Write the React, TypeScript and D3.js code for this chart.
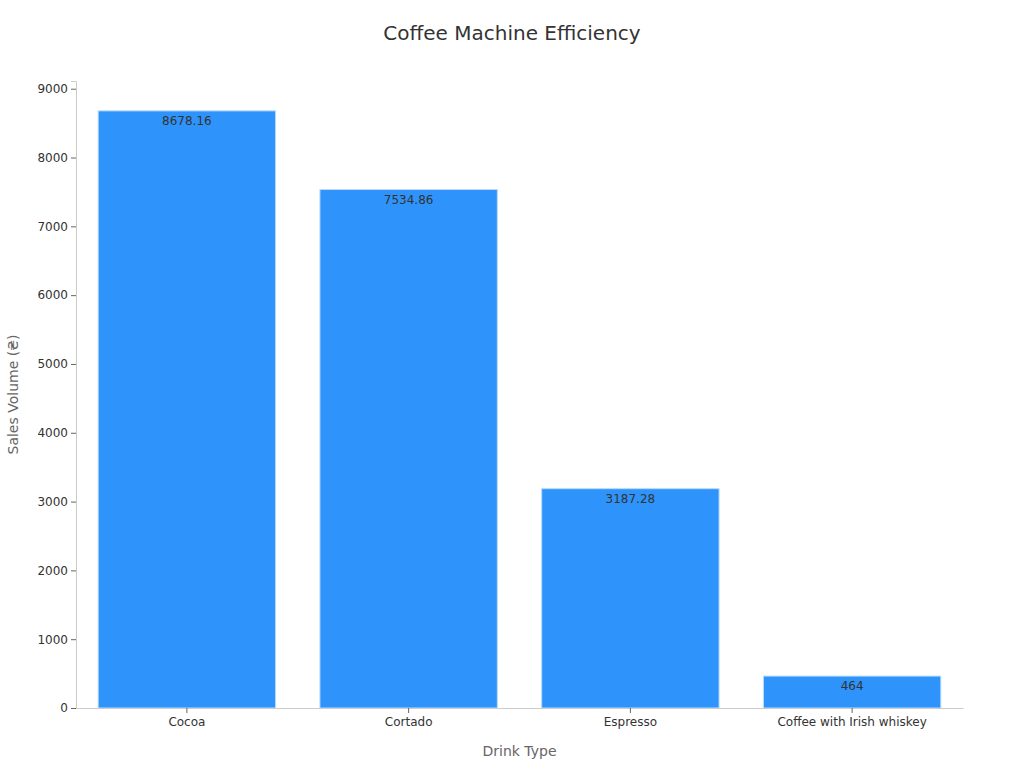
import { useEffect, useRef } from "react";
import * as d3 from "d3";

const drinks = ["Cocoa", "Cortado", "Espresso", "Coffee with Irish whiskey"];
const sales = [8678.16, 7534.86, 3187.28, 464];
const yTicks = [0, 1000, 2000, 3000, 4000, 5000, 6000, 7000, 8000, 9000];

const W = 1024;
const H = 768;
const FONT = "'DejaVu Sans', sans-serif";

export default function App() {
  const ref = useRef<SVGSVGElement>(null);

  useEffect(() => {
    if (!ref.current) return;
    const svg = d3.select(ref.current);
    svg.selectAll("*").remove();

    const m = { top: 81, right: 61, bottom: 60, left: 76 };
    const innerW = W - m.left - m.right;
    const innerH = H - m.top - m.bottom;

    const x = d3.scaleBand<string>().domain(drinks).range([0, innerW]).paddingInner(0.2).paddingOuter(0.1);
    const y = d3.scaleLinear().domain([0, d3.max(sales)! * 1.05]).range([innerH, 0]);

    svg.append("text")
      .attr("x", W / 2).attr("y", 40)
      .attr("text-anchor", "middle")
      .attr("font-family", FONT).attr("font-size", 20)
      .attr("fill", "#333")
      .text("Coffee Machine Efficiency");

    const g = svg.append("g").attr("transform", `translate(${m.left},${m.top})`);

    // bars
    g.selectAll("rect.bar")
      .data(sales)
      .join("rect")
      .attr("class", "bar")
      .attr("x", (_, i) => x(drinks[i])!)
      .attr("width", x.bandwidth())
      .attr("y", (d) => y(d))
      .attr("height", (d) => innerH - y(d))
      .attr("fill", "#2E93FA")
      .attr("stroke", "#b9dcfd")
      .attr("stroke-width", 1);

    g.selectAll("text.val")
      .data(sales)
      .join("text")
      .attr("class", "val")
      .attr("x", (_, i) => x(drinks[i])! + x.bandwidth() / 2)
      .attr("y", (d) => y(d) + 14)
      .attr("text-anchor", "middle")
      .attr("font-family", FONT).attr("font-size", 12)
      .attr("fill", "#333")
      .text((d) => String(d));

    // y axis
    const ya = g.append("g").call(d3.axisLeft(y).tickValues(yTicks).tickSize(5).tickPadding(3).tickFormat(d3.format("d")));
    ya.select(".domain").attr("stroke", "#ccc");
    ya.selectAll(".tick line").attr("stroke", "#666");
    ya.selectAll(".tick text").attr("font-family", FONT).attr("font-size", 12).attr("fill", "#333");

    // x axis
    const xa = g.append("g").attr("transform", `translate(0,${innerH})`)
      .call(d3.axisBottom(x).tickSize(5).tickSizeOuter(0).tickPadding(4));
    xa.select(".domain").attr("stroke", "#ccc");
    xa.selectAll(".tick line").attr("stroke", "#666");
    xa.selectAll(".tick text").attr("font-family", FONT).attr("font-size", 12).attr("fill", "#333");

    svg.append("text")
      .attr("x", m.left + innerW / 2).attr("y", 756)
      .attr("text-anchor", "middle")
      .attr("font-family", FONT).attr("font-size", 14)
      .attr("fill", "#666")
      .text("Drink Type");

    svg.append("text")
      .attr("transform", `translate(18,${m.top + innerH / 2}) rotate(-90)`)
      .attr("text-anchor", "middle")
      .attr("font-family", FONT).attr("font-size", 14)
      .attr("fill", "#666")
      .text("Sales Volume (₴)");
  }, []);

  return (
    <div style={{ position: "absolute", left: 0, top: 0, background: "#fff" }}>
      <svg ref={ref} width={W} height={H} />
    </div>
  );
}
